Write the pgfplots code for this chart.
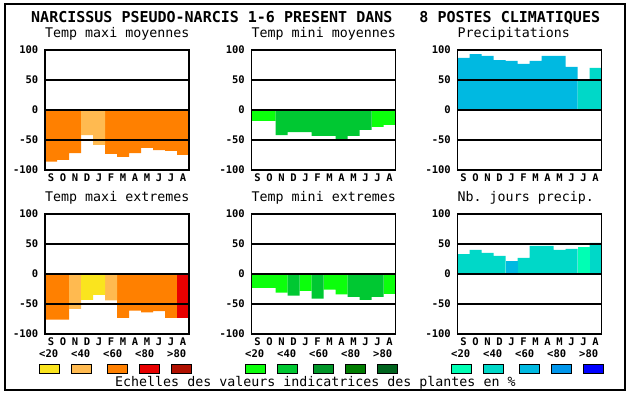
\documentclass[border=0pt]{standalone}
\usepackage{pgfplots}
\pgfplotsset{compat=1.18}
\usepackage{fontspec}
\setmonofont{DejaVu Sans Mono}
\definecolor{tY}{RGB}{250,228,30}
\definecolor{tLO}{RGB}{255,186,80}
\definecolor{tO}{RGB}{255,128,0}
\definecolor{tR}{RGB}{232,0,0}
\definecolor{tDR}{RGB}{176,16,0}
\definecolor{gL}{RGB}{12,255,12}
\definecolor{gM}{RGB}{0,200,50}
\definecolor{gD}{RGB}{0,150,40}
\definecolor{gDD}{RGB}{0,125,0}
\definecolor{gDDD}{RGB}{0,100,30}
\definecolor{bA}{RGB}{0,255,180}
\definecolor{bT}{RGB}{0,216,200}
\definecolor{bB}{RGB}{0,185,225}
\definecolor{bM}{RGB}{0,150,235}
\definecolor{bD}{RGB}{0,0,255}
\newcommand{\tickfont}{\ttfamily\bfseries\fontsize{10.5bp}{12bp}\selectfont}
\newcommand{\subfont}{\ttfamily\fontsize{13.3bp}{15bp}\selectfont}
\pgfplotsset{
  panel/.style={
    scale only axis, width=144bp, height=120bp,
    xmin=0, xmax=12, ymin=-100, ymax=100,
    axis on top,
    ytick={-100,-50,0,50,100},
    yticklabels={-100,-50,0,50,100},
    xtick={0.5,1.5,2.5,3.5,4.5,5.5,6.5,7.5,8.5,9.5,10.5,11.5},
    xticklabels={S,O,N,D,J,F,M,A,M,J,J,A},
    major tick length=0pt,
    ymajorgrids,
    grid style={black, line width=1.2bp},
    axis line style={line width=1.2bp},
    tick label style={font=\tickfont, inner sep=0pt},
    yticklabel style={xshift=-6.5bp},
    xticklabel style={yshift=-4bp},
    title style={at={(0,1)}, anchor=base west, yshift=6.5bp, inner sep=0pt, font=\subfont},
  },
  bars/.style={ybar, bar width=1, bar shift=0pt, draw=none, fill=#1},
}
\begin{document}
\begin{tikzpicture}
\path[use as bounding box, fill=white] (0,0) rectangle (630bp,394bp);
\draw[line width=1.2bp] (5bp,4bp) rectangle (625bp,390bp);
\node[anchor=base west, inner sep=0pt, font=\ttfamily\bfseries\fontsize{15bp}{17bp}\selectfont] at (31bp,371.5bp) {NARCISSUS PSEUDO-NARCIS 1-6 PRESENT DANS\ \ \ 8 POSTES CLIMATIQUES};

% Panel 1
\begin{axis}[panel, at={(45bp,224bp)}, anchor=south west, title={Temp maxi moyennes}]
\addplot[bars=tO] coordinates {(0.5,-86)(1.5,-83)(2.5,-72)(5.5,-73)(6.5,-78)(7.5,-72)(8.5,-63)(9.5,-67)(10.5,-68)(11.5,-75)};
\addplot[bars=tLO] coordinates {(3.5,-42)(4.5,-58)};
\end{axis}

% Panel 2
\begin{axis}[panel, at={(251.5bp,224bp)}, anchor=south west, title={Temp mini moyennes}]
\addplot[bars=gL] coordinates {(0.5,-18)(1.5,-18)(10.5,-28)(11.5,-25)};
\addplot[bars=gM] coordinates {(2.5,-42)(3.5,-37)(4.5,-37)(5.5,-43)(6.5,-43)(7.5,-48)(8.5,-43)(9.5,-33)};
\end{axis}

% Panel 3
\begin{axis}[panel, at={(457.5bp,224bp)}, anchor=south west, title={Precipitations}]
\addplot[bars=bB] coordinates {(0.5,87)(1.5,93)(2.5,90)(3.5,83)(4.5,82)(5.5,77)(6.5,82)(7.5,90)(8.5,90)(9.5,72)};
\addplot[bars=bT] coordinates {(10.5,50)(11.5,70)};
\end{axis}

% Panel 4
\begin{axis}[panel, at={(45bp,60bp)}, anchor=south west, title={Temp maxi extremes}]
\addplot[bars=tO] coordinates {(0.5,-76)(1.5,-76)(6.5,-73)(7.5,-61)(8.5,-64)(9.5,-62)(10.5,-73)};
\addplot[bars=tLO] coordinates {(2.5,-58)(5.5,-44)};
\addplot[bars=tY] coordinates {(3.5,-43)(4.5,-35)};
\addplot[bars=tR] coordinates {(11.5,-73)};
\end{axis}

% Panel 5
\begin{axis}[panel, at={(251.5bp,60bp)}, anchor=south west, title={Temp mini extremes}]
\addplot[bars=gL] coordinates {(0.5,-23)(1.5,-23)(2.5,-31)(4.5,-28)(6.5,-26)(7.5,-34)(11.5,-33)};
\addplot[bars=gM] coordinates {(3.5,-36)(5.5,-41)(8.5,-38)(9.5,-43)(10.5,-38)};
\end{axis}

% Panel 6
\begin{axis}[panel, at={(457.5bp,60bp)}, anchor=south west, title={Nb. jours precip.}]
\addplot[bars=bT] coordinates {(0.5,33)(1.5,40)(2.5,35)(3.5,30)(5.5,27)(6.5,47)(7.5,47)(8.5,40)(9.5,42)(11.5,52)};
\addplot[bars=bB] coordinates {(4.5,22)};
\addplot[bars=bA] coordinates {(10.5,45)};
\end{axis}

% Legends
\foreach \L/\ca/\cb/\cc/\cd/\ce in {39/tY/tLO/tO/tR/tDR, 245/gL/gM/gD/gDD/gDDD, 451/bA/bT/bB/bM/bD}{
  \foreach \i/\lab in {0/<20, 1/<40, 2/<60, 3/<80, 4/>80}{
    \node[anchor=base west, inner sep=0pt, font=\tickfont] at ({(\L+32*\i)*1bp},36.5bp) {\lab};
  }
  \foreach \bx/\col in {0/\ca, 32/\cb, 68/\cc, 100/\cd, 132/\ce}{
    \draw[fill=\col, line width=0.9bp] ({(\L+\bx)*1bp+0.5bp},21bp) rectangle ({(\L+\bx)*1bp+20bp},30bp);
  }
}
\node[anchor=base west, inner sep=0pt, font=\subfont] at (115bp,7.5bp) {Echelles des valeurs indicatrices des plantes en \%};
\end{tikzpicture}
\end{document}
